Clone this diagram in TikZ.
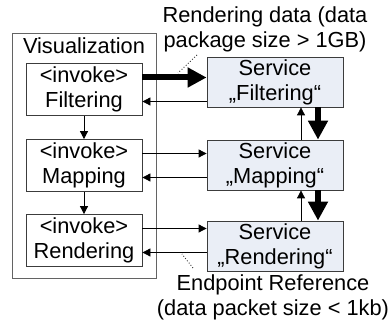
\documentclass[tikz,border=0pt]{standalone}
\usepackage{fontspec}
\setmainfont{Liberation Sans}
\usetikzlibrary{arrows.meta, positioning}
\definecolor{srvfill}{RGB}{234,238,246}
\definecolor{boxline}{RGB}{60,60,60}

\begin{document}
\begin{tikzpicture}[
    x=1pt, y=-1pt,
    font=\fontsize{21.8}{25}\selectfont,
    frame/.style={draw=boxline!80, line width=0.8pt, minimum width=144pt, minimum height=245pt, inner sep=0pt},
    invoke/.style={draw=boxline, line width=0.8pt, fill=white, minimum width=116pt, minimum height=52pt, inner sep=0pt, align=center},
    service/.style={draw=boxline, line width=0.8pt, fill=srvfill, minimum width=136pt, minimum height=50pt, inner sep=0pt, align=center},
    note/.style={align=center, inner sep=0pt},
    call/.style={-{Triangle[length=8pt, width=8pt]}, line width=0.8pt},
    bulk/.style={-{Triangle[length=19pt, width=19pt]}, line width=6pt},
    hint/.style={dotted, line width=0.9pt, black!80}
]
\useasboundingbox (0,0) rectangle (392,326);

\node[frame] (vis) at (84,155.5) {};
\node (title) at (84,46) {Visualization};

\node[invoke] (inv1) at (84,89.5) {<invoke>\\Filtering};
\node[invoke] (inv2) at (84,165.5) {<invoke>\\Mapping};
\node[invoke] (inv3) at (84,240.5) {<invoke>\\Rendering};

\node[service] (srv1) at (275,82) {Service\\„Filtering“};
\node[service] (srv2) at (275,165) {Service\\„Mapping“};
\node[service] (srv3) at (275,246) {Service\\„Rendering“};

\node[note] (note1) at (265,29.5) {Rendering data (data\\package size > 1GB)};
\node[note] (note2) at (273,297.5) {Endpoint Reference\\(data packet size < 1kb)};

% calls between invocations and services
\foreach \i in {1,2,3} {
  \coordinate (out\i) at ([yshift=12pt]inv\i.east);
  \coordinate (in\i) at ([yshift=-12pt]inv\i.east);
}
\draw[bulk] (out1) -- (out1 -| srv1.west);
\draw[call] (in1 -| srv1.west) -- (in1);
\draw[call] (out2) -- (out2 -| srv2.west);
\draw[call] (in2 -| srv2.west) -- (in2);
\draw[call] (out3) -- (out3 -| srv3.west);
\draw[call] (in3 -| srv3.west) -- (in3);

% order of invocations
\draw[call] (inv1) -- (inv2);
\draw[call] (inv2) -- (inv3);

% service chain
\draw[call] ([xshift=26pt]srv2.north) -- ([xshift=26pt]srv1.south);
\draw[bulk] ([xshift=43pt]srv1.south) -- ([xshift=43pt]srv2.north);
\draw[call] ([xshift=26pt]srv3.north) -- ([xshift=26pt]srv2.south);
\draw[bulk] ([xshift=43pt]srv2.south) -- ([xshift=43pt]srv3.north);

% notes
\coordinate (n1a) at (197,55);
\coordinate (n1b) at (178,73);
\coordinate (n2a) at (193,268);
\coordinate (n2b) at (182,254);
\draw[hint] (n1a) -- (n1b);
\draw[hint] (n2a) -- (n2b);

\end{tikzpicture}
\end{document}
